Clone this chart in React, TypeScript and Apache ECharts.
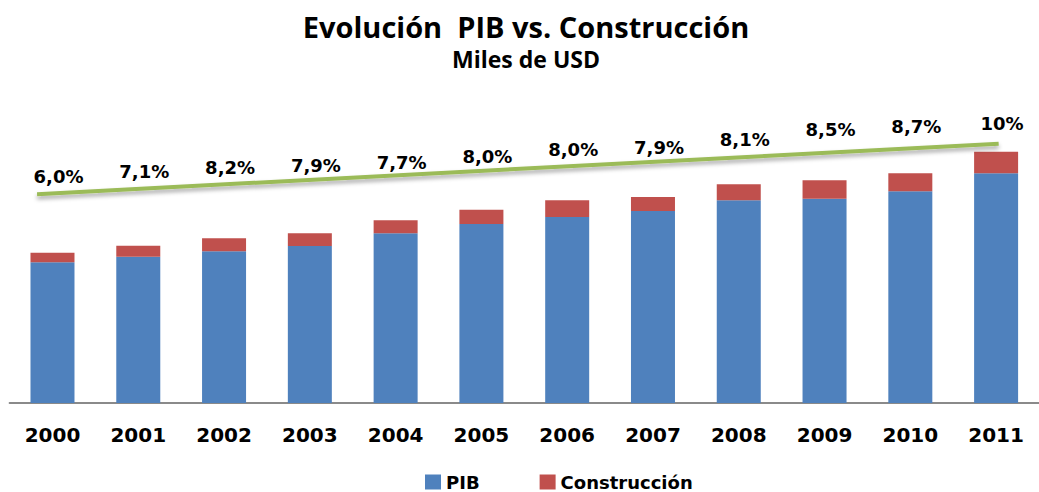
import React, { useEffect, useRef } from "react";
import * as echarts from "echarts";

const years = ["2000", "2001", "2002", "2003", "2004", "2005", "2006", "2007", "2008", "2009", "2010", "2011"];
const pib = [140.7, 146.3, 151.7, 157, 169.7, 179, 186, 192, 202.7, 204.3, 211.7, 229.7];
const construccion = [9.6, 11, 13, 12.7, 13, 14.3, 16.7, 14, 16, 18.4, 18, 21.6];
const pctLabels = ["6,0%", "7,1%", "8,2%", "7,9%", "7,7%", "8,0%", "8,0%", "7,9%", "8,1%", "8,5%", "8,7%", "10%"];
// heights (on the percent axis) at which the hand-placed percentage labels sit
const pctLabelHeights = [7.67, 7.88, 8.06, 8.16, 8.32, 8.58, 8.93, 9.03, 9.41, 9.89, 9.99, 10.13];
// linear trend of the percentages: [category position, percent]
const trendLine = [[-0.18, 6.81], [11.03, 9.2]];

export default function App() {
  const ref = useRef<HTMLDivElement>(null);
  useEffect(() => {
    const chart = echarts.init(ref.current!, null, { renderer: "svg" });
    const labelFont = { fontFamily: "DejaVu Sans", fontWeight: "bold" as const, color: "#000" };
    chart.setOption({
      animation: false,
      backgroundColor: "#fff",
      graphic: [
        {
          type: "text",
          x: 526,
          y: 26,
          style: {
            text: "Evolución  PIB vs. Construcción",
            fontFamily: "Open Sans",
            fontWeight: "bold",
            fontSize: 29,
            fill: "#000",
            textAlign: "center",
            textVerticalAlign: "middle",
          },
        },
        {
          type: "text",
          x: 526,
          y: 59,
          style: {
            text: "Miles de USD",
            fontFamily: "Open Sans",
            fontWeight: "bold",
            fontSize: 23,
            fill: "#000",
            textAlign: "center",
            textVerticalAlign: "middle",
          },
        },
      ],
      legend: {
        data: ["PIB", "Construcción"],
        left: 425,
        top: 473,
        padding: 0,
        itemWidth: 16,
        itemHeight: 15,
        itemGap: 60,
        icon: "rect",
        textStyle: { ...labelFont, fontSize: 18 },
      },
      grid: { left: 9.6, width: 1040.4, top: 103, height: 300 },
      xAxis: [
        {
          type: "category",
          data: years,
          axisLine: { lineStyle: { color: "#8a8a8a", width: 2 } },
          axisTick: { show: false },
          axisLabel: { ...labelFont, fontSize: 20, margin: 22 },
        },
        { type: "value", min: -0.5, max: 11.5, show: false },
      ],
      yAxis: [
        { type: "value", min: 0, max: 300, show: false },
        { type: "value", min: -3.05, max: 11.12, show: false },
      ],
      series: [
        {
          name: "PIB",
          type: "bar",
          stack: "total",
          barWidth: 44,
          data: pib,
          itemStyle: { color: "#4F81BD" },
        },
        {
          name: "Construcción",
          type: "bar",
          stack: "total",
          barWidth: 44,
          data: construccion,
          itemStyle: { color: "#C0504D" },
        },
        {
          name: "Tendencia",
          type: "line",
          xAxisIndex: 1,
          yAxisIndex: 1,
          data: trendLine,
          symbol: "none",
          lineStyle: {
            color: "#9BBB59",
            width: 4,
            shadowColor: "rgba(0,0,0,0.35)",
            shadowBlur: 4,
            shadowOffsetY: 3,
          },
        },
        {
          name: "Porcentaje",
          type: "scatter",
          yAxisIndex: 1,
          data: pctLabelHeights,
          symbolSize: 1,
          itemStyle: { color: "rgba(0,0,0,0)", opacity: 1 },
          label: {
            show: true,
            position: "inside",
            offset: [6, 0],
            formatter: (p: any) => pctLabels[p.dataIndex],
            ...labelFont,
            textBorderWidth: 0,
            fontSize: 18,
          },
        },
      ],
    });
    return () => chart.dispose();
  }, []);
  return (
    <div
      ref={ref}
      style={{ position: "fixed", left: 0, top: 0, width: 1039, height: 492 }}
    />
  );
}
